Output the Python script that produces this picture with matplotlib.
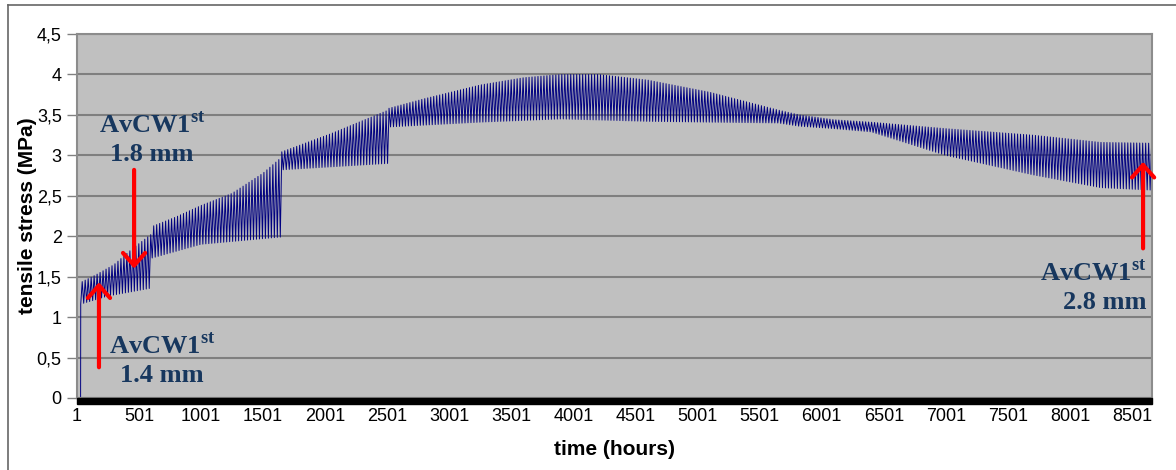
import numpy as np
import matplotlib.pyplot as plt
from matplotlib.patches import Rectangle
from matplotlib.lines import Line2D

plt.rcParams['font.family'] = ['Liberation Sans', 'DejaVu Sans']
plt.rcParams['mathtext.fontset'] = 'custom'
plt.rcParams['mathtext.bf'] = 'Liberation Serif:bold'
plt.rcParams['mathtext.rm'] = 'Liberation Serif:bold'

# envelope of the daily stress cycle (hours, MPa)
upper_h = [31, 150, 300, 450, 604, 605, 800, 1000, 1250, 1500, 1644, 1645, 2050, 2509,
           2510, 2800, 3250, 3600, 3900, 4200, 4600, 5100, 5650, 5820, 6100, 6400,
           7000, 7700, 8250, 8660]
upper_v = [1.43, 1.52, 1.65, 1.85, 2.03, 2.12, 2.24, 2.38, 2.53, 2.78, 2.97, 3.04, 3.27, 3.56,
           3.58, 3.70, 3.87, 3.96, 4.00, 4.00, 3.93, 3.78, 3.56, 3.50, 3.44, 3.41,
           3.33, 3.25, 3.16, 3.15]
lower_h = [31, 250, 604, 605, 1000, 1644, 1645, 2509, 2510, 3250, 3900, 4600, 5100, 5650,
           5820, 6100, 6400, 7000, 7700, 8250, 8660]
lower_v = [1.16, 1.26, 1.36, 1.73, 1.90, 1.99, 2.82, 2.90, 3.35, 3.41, 3.45, 3.42, 3.41, 3.40,
           3.36, 3.33, 3.29, 3.00, 2.76, 2.60, 2.57]
start_h = [1, 30]          # stress is zero before loading starts
start_v = [0, 0]

xticks = list(range(1, 8502, 500))
yticks = [0, 0.5, 1, 1.5, 2, 2.5, 3, 3.5, 4, 4.5]
ytick_labels = ['0', '0,5', '1', '1,5', '2', '2,5', '3', '3,5', '4', '4,5']

notes = [('AvCW1$^{\\mathbf{st}}$\n1.8 mm', 606, 3.20, 'center', 461, 2.82, 1.60),
         ('AvCW1$^{\\mathbf{st}}$\n1.4 mm', 687, 0.47, 'center', 178, 0.38, 1.43),
         ('AvCW1$^{\\mathbf{st}}$\n2.8 mm', 8614, 1.37, 'right', 8590, 1.85, 2.92)]

# daily cycle: swing between the lower and upper envelope every 12 h
t = np.arange(31, 8660, 12)
lo = np.interp(t, lower_h, lower_v)
hi = np.interp(t, upper_h, upper_v)
stress = np.where(np.arange(len(t)) % 2 == 0, lo, hi)
t = np.concatenate([start_h, t])
stress = np.concatenate([start_v, stress])

fig = plt.figure(figsize=(11.76, 4.70), dpi=100)
ax = fig.add_axes([77 / 1176, 1 - 398 / 470, (1152 - 77) / 1176, (398 - 34) / 470])
ax.set_facecolor('#c0c0c0')

ax.plot(t, stress, color='#000080', lw=0.7)

ax.set_xlim(1, 8662)
ax.set_ylim(0, 4.5)
ax.set_xticks(xticks)
ax.set_xticklabels([str(x) for x in xticks], fontsize=13)
ax.set_yticks(yticks)
ax.set_yticklabels(ytick_labels, fontsize=13)
ax.tick_params(axis='x', length=0, pad=7)
ax.tick_params(axis='y', length=7, width=1, color='#808080', pad=4)
ax.grid(axis='y', color='#7f7f7f', lw=1.5)
ax.set_axisbelow(True)
for s in ['left', 'right', 'top', 'bottom']:
    ax.spines[s].set_color('#8c8c8c')
    ax.spines[s].set_linewidth(1.5)

# thick black base line under the plot area
ax.add_patch(Rectangle((0, -0.016), 1, 0.016, transform=ax.transAxes,
                       color='black', clip_on=False, zorder=5))

ax.set_ylabel('tensile stress (MPa)', fontsize=15, fontweight='bold', labelpad=0)
ax.set_xlabel('time (hours)', fontsize=15, fontweight='bold', labelpad=11)

for txt, tx, ty, ha, ax_x, y0, y1 in notes:
    ax.text(tx, ty, txt, ha=ha, va='center', fontsize=19, fontweight='bold',
            family='Liberation Serif', color='#17375e', linespacing=1.3,
            multialignment=ha)
    ax.annotate('', xy=(ax_x, y1), xytext=(ax_x, y0),
                arrowprops=dict(arrowstyle='->,head_length=0.9,head_width=0.8',
                                color='red', lw=3, shrinkA=0, shrinkB=0,
                                mutation_scale=10))

# outer chart frame (top and left edges visible)
fig.add_artist(Line2D([8 / 1176, 1], [1 - 5 / 470, 1 - 5 / 470], color='#666666', lw=1.2))
fig.add_artist(Line2D([8 / 1176, 8 / 1176], [0, 1 - 5 / 470], color='#666666', lw=1.2))

fig.savefig('out.png', dpi=100, facecolor='white')
